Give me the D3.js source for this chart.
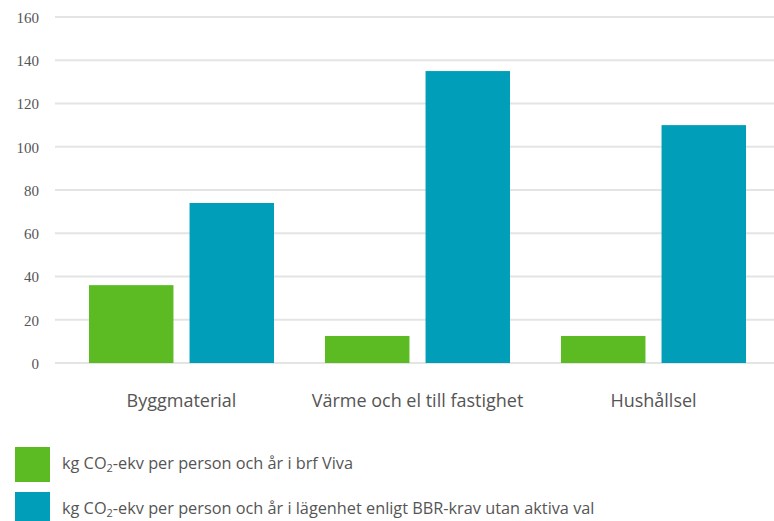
<!DOCTYPE html>
<html><head><meta charset="utf-8">
<script src="https://cdn.jsdelivr.net/npm/d3@7"></script>
<style>body{margin:0;background:#fff}svg{display:block}</style>
</head><body>
<svg id="c" width="774" height="521"></svg>
<script>
const categories = ["Byggmaterial", "Värme och el till fastighet", "Hushållsel"];
const seriesNames = ["brf Viva", "BBR-krav"];
const vivaValues = [36, 12.5, 12.5];
const bbrValues = [74, 135, 110];
const yTicks = [0, 20, 40, 60, 80, 100, 120, 140, 160];
const legendPre = ["kg CO", "kg CO"];
const legendPost = ["-ekv per person och år i brf Viva", "-ekv per person och år i lägenhet enligt BBR-krav utan aktiva val"];
const colors = ["#5cbb22", "#009eb8"];

const svg = d3.select("#c");
const y = d3.scaleLinear().domain([0, 160]).range([363, 17]);
const x0 = d3.scaleBand().domain(categories).range([63.5, 771.5]).paddingInner(0.216).paddingOuter(0.108);
const x1 = d3.scaleBand().domain(seriesNames).range([0, x0.bandwidth()]).paddingInner(0.16).paddingOuter(0);

// gridlines
svg.append("g").selectAll("line").data(yTicks).join("line")
  .attr("x1", 55).attr("x2", 774)
  .attr("y1", d => y(d)).attr("y2", d => y(d))
  .attr("stroke", "#e4e4e4").attr("stroke-width", 2);

// y labels
const yAxis = d3.axisLeft(y).tickValues(yTicks).tickSize(0).tickPadding(0);
const ga = svg.append("g").attr("transform", "translate(39,0)").call(yAxis);
ga.select(".domain").remove();
ga.selectAll("text").attr("font-family", "Liberation Serif, serif").attr("font-size", 15).attr("fill", "#555").attr("dy", "0.35em");

// bars
const rows = categories.map((c, i) => ({c, vals: [vivaValues[i], bbrValues[i]]}));
const g = svg.append("g").selectAll("g").data(rows).join("g")
  .attr("transform", d => `translate(${x0(d.c)},0)`);
g.selectAll("rect").data(d => d.vals.map((v, j) => ({v, s: seriesNames[j], j}))).join("rect")
  .attr("x", d => x1(d.s)).attr("width", x1.bandwidth())
  .attr("y", d => y(d.v)).attr("height", d => y(0) - y(d.v))
  .attr("fill", d => colors[d.j]);

// category labels
svg.append("g").selectAll("text").data(categories).join("text")
  .attr("x", d => x0(d) + x0.bandwidth() / 2).attr("y", 407)
  .attr("text-anchor", "middle")
  .attr("font-family", "Open Sans, sans-serif").attr("font-size", 18).attr("fill", "#555")
  .text(d => d);

// legend
const lg = svg.append("g").selectAll("g").data(seriesNames).join("g")
  .attr("transform", (d, i) => `translate(15,${447 + i * 45})`);
lg.append("rect").attr("width", 35).attr("height", 35).attr("fill", (d, i) => colors[i]);
const lt = lg.append("text").attr("x", 47).attr("y", 22)
  .attr("font-family", "Open Sans, sans-serif").attr("font-size", 16.3).attr("fill", "#555");
lt.append("tspan").text((d, i) => legendPre[i]);
lt.append("tspan").attr("font-size", 11).attr("dy", 3).text("2");
lt.append("tspan").attr("dy", -3).text((d, i) => legendPost[i]);
</script>
</body></html>
